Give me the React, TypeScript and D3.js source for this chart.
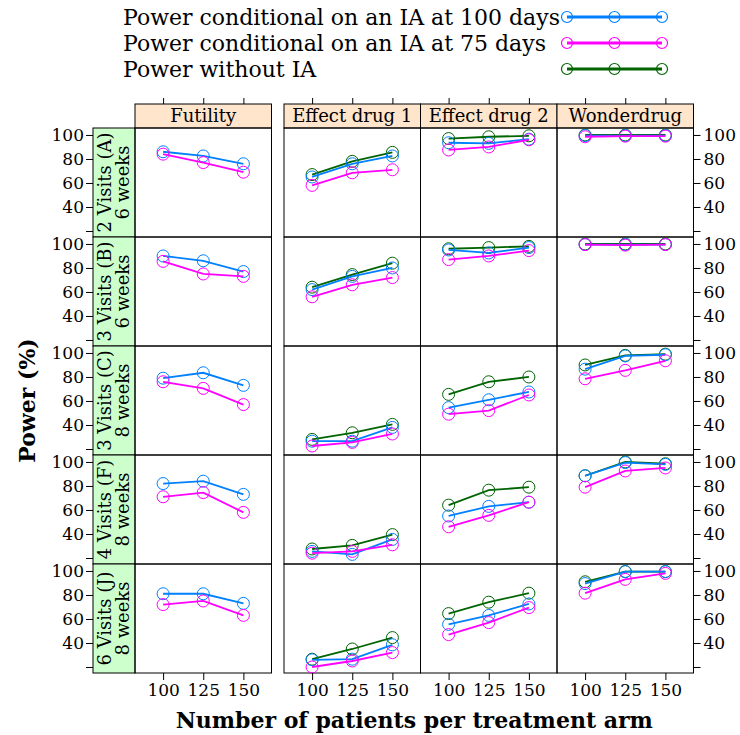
import React, { useEffect, useRef } from "react";
import * as d3 from "d3";

const width = 740;
const height = 735;
const font = "'DejaVu Serif', serif";

const sampleSizes = [100, 125, 150];
const scenarios = ["Futility", "Effect drug 1", "Effect drug 2", "Wonderdrug"];
const designs = [
  ["2 Visits (A)", "6 weeks"],
  ["3 Visits (B)", "6 weeks"],
  ["3 Visits (C)", "8 weeks"],
  ["4 Visits (F)", "8 weeks"],
  ["6 Visits (J)", "8 weeks"],
];
const seriesNames = [
  "Power conditional on an IA at 100 days",
  "Power conditional on an IA at 75 days",
  "Power without IA",
];
const seriesColors = ["#0080ff", "#ff00ff", "#006400"];
const yTicks = [20, 40, 60, 80, 100];

// [design][scenario][sample size]
const powerIA100 = [
  [[86, 82.5, 76], [65, 76, 82.5], [93.5, 93, 96.5], [99.5, 99.5, 99.5]],
  [[90, 86, 77], [62, 73, 80], [95, 92.5, 97], [99.5, 99.5, 99.5]],
  [[79, 83.5, 73], [26.5, 26.5, 38], [54.5, 61, 67.5], [86.5, 97.5, 98.5]],
  [[82, 84, 73], [25.5, 23, 35.5], [55, 63, 66.5], [88.5, 99.5, 98]],
  [[81, 81, 73], [26, 26.5, 38.5], [55.5, 63, 72.5], [89.5, 99.5, 99.5]],
];
const powerIA75 = [
  [[84, 77, 69], [58, 68.5, 71], [87.5, 90, 96], [98.5, 99, 99]],
  [[85.5, 75, 73], [56, 66, 72], [87, 90, 94.5], [99.5, 99, 99.5]],
  [[76, 70.5, 57], [22.5, 25.5, 32.5], [49, 52, 65], [78.5, 85.5, 93.5]],
  [[71, 74.5, 58], [24, 25.5, 31], [46, 55.5, 66.5], [79, 92.5, 95]],
  [[72, 75, 63], [20, 25, 32], [47, 57, 69.5], [81.5, 93, 98]],
];
const powerNoIA = [
  [null, [67, 78, 85.5], [97, 98.5, 99.3], [100, 100, 100]],
  [null, [64, 74.5, 84], [96, 97, 98], [100, 100, 100]],
  [null, [28, 33.5, 40.5], [65.5, 76, 80], [90, 98, 99]],
  [null, [27.5, 30.5, 39.5], [64, 76.5, 79], [88.5, 100, 98.5]],
  [null, [26.5, 35, 44.5], [64.5, 74, 81.5], [91, 99.5, 99.5]],
];
const allSeries = [powerIA100, powerIA75, powerNoIA];

const panelLeft = 135;
const panelTop = 128;
const panelW = 136.5;
const panelH = 109;
const colGap = 12.5;
const stripH = 24;
const leftStripW = 42;

const colX = (c: number) => panelLeft + c * panelW + (c > 0 ? colGap : 0);
const rowY = (r: number) => panelTop + r * panelH;

export default function App() {
  const ref = useRef<SVGSVGElement>(null);

  useEffect(() => {
    const svg = d3.select(ref.current);
    svg.selectAll("*").remove();

    const x = d3.scaleLinear().domain([82.5, 167.5]).range([0, panelW]);
    const y = d3.scaleLinear().domain([15, 105.8]).range([panelH, 0]);
    const line = d3
      .line<number>()
      .x((_, i) => x(sampleSizes[i]))
      .y(d => y(d));

    // legend
    const legend = svg.append("g").attr("font-family", font);
    const lx = d3.scaleLinear().domain([0, 2]).range([567, 662]);
    seriesNames.forEach((name, i) => {
      const ly = 17 + i * 26;
      legend
        .append("text")
        .attr("x", 123)
        .attr("y", ly + 8)
        .attr("font-size", 22)
        .attr("fill", "#000")
        .text(name);
      legend
        .append("line")
        .attr("x1", lx(0))
        .attr("x2", lx(2))
        .attr("y1", ly)
        .attr("y2", ly)
        .attr("stroke", seriesColors[i])
        .attr("stroke-width", 3);
      legend
        .selectAll(null)
        .data([0, 1, 2])
        .join("circle")
        .attr("cx", d => lx(d))
        .attr("cy", ly)
        .attr("r", 5.5)
        .attr("fill", "none")
        .attr("stroke", seriesColors[i])
        .attr("stroke-width", 1.2);
    });

    // strips on top
    scenarios.forEach((s, c) => {
      const g = svg.append("g").attr("transform", `translate(${colX(c)},${panelTop - stripH})`);
      g.append("rect")
        .attr("width", panelW)
        .attr("height", stripH)
        .attr("fill", "#ffe5cc")
        .attr("stroke", "#000");
      g.append("text")
        .attr("x", panelW / 2)
        .attr("y", 18)
        .attr("text-anchor", "middle")
        .attr("font-family", font)
        .attr("font-size", 18)
        .text(s);
      // top ticks
      g.append("g")
        .call(d3.axisTop(x).tickValues(sampleSizes).tickSize(6).tickFormat(() => ""))
        .call(a => a.select(".domain").remove());
    });

    // strips on the left
    designs.forEach((d, r) => {
      const g = svg.append("g").attr("transform", `translate(${panelLeft - leftStripW},${rowY(r)})`);
      g.append("rect")
        .attr("width", leftStripW)
        .attr("height", panelH)
        .attr("fill", "#ccffcc")
        .attr("stroke", "#000");
      d.forEach((t, k) => {
        g.append("text")
          .attr("transform", `translate(${18 + k * 18},${panelH / 2}) rotate(-90)`)
          .attr("text-anchor", "middle")
          .attr("font-family", font)
          .attr("font-size", 18)
          .text(t);
      });

      const fmt = (v: number) => (v === 20 ? "" : String(v));
      // left axis
      svg.append("g")
        .attr("transform", `translate(${panelLeft - leftStripW},${rowY(r)})`)
        .call(d3.axisLeft(y).tickValues(yTicks).tickSize(7).tickPadding(2).tickFormat(fmt as any))
        .call(a => a.select(".domain").remove())
        .call(a => a.selectAll("text").attr("font-family", font).attr("font-size", 17).attr("fill", "#000"));
      // right axis
      svg.append("g")
        .attr("transform", `translate(${colX(3) + panelW},${rowY(r)})`)
        .call(d3.axisRight(y).tickValues(yTicks).tickSize(7).tickPadding(3).tickFormat(fmt as any))
        .call(a => a.select(".domain").remove())
        .call(a => a.selectAll("text").attr("font-family", font).attr("font-size", 17).attr("fill", "#000"));
    });

    // panels
    designs.forEach((_, r) => {
      scenarios.forEach((__, c) => {
        const g = svg.append("g").attr("transform", `translate(${colX(c)},${rowY(r)})`);
        g.append("rect")
          .attr("width", panelW)
          .attr("height", panelH)
          .attr("fill", "none")
          .attr("stroke", "#000");
        [2, 0, 1].forEach(si => {
          const vals = allSeries[si][r][c];
          if (!vals) return;
          g.append("path")
            .attr("d", line(vals))
            .attr("fill", "none")
            .attr("stroke", seriesColors[si])
            .attr("stroke-width", 1.8);
          g.selectAll(null)
            .data(vals)
            .join("circle")
            .attr("cx", (_, i) => x(sampleSizes[i]))
            .attr("cy", d => y(d))
            .attr("r", 6)
            .attr("fill", "none")
            .attr("stroke", seriesColors[si])
            .attr("stroke-width", 1);
        });
      });
    });

    // bottom axes
    scenarios.forEach((_, c) => {
      svg.append("g")
        .attr("transform", `translate(${colX(c)},${rowY(5)})`)
        .call(d3.axisBottom(x).tickValues(sampleSizes).tickSize(7).tickPadding(4))
        .call(a => a.select(".domain").remove())
        .call(a => a.selectAll("text").attr("font-family", font).attr("font-size", 17).attr("fill", "#000"));
    });

    // axis titles
    svg.append("text")
      .attr("x", (panelLeft + colX(3) + panelW) / 2)
      .attr("y", 728)
      .attr("text-anchor", "middle")
      .attr("font-family", font)
      .attr("font-weight", "bold")
      .attr("font-size", 22)
      .text("Number of patients per treatment arm");
    svg.append("text")
      .attr("transform", `translate(35,${(panelTop + rowY(5)) / 2}) rotate(-90)`)
      .attr("text-anchor", "middle")
      .attr("font-family", font)
      .attr("font-weight", "bold")
      .attr("font-size", 22)
      .text("Power (%)");
  }, []);

  return (
    <svg
      ref={ref}
      width={width}
      height={height}
      viewBox={`0 0 ${width} ${height}`}
      style={{ position: "absolute", left: 0, top: 0, background: "#fff" }}
    ></svg>
  );
}
